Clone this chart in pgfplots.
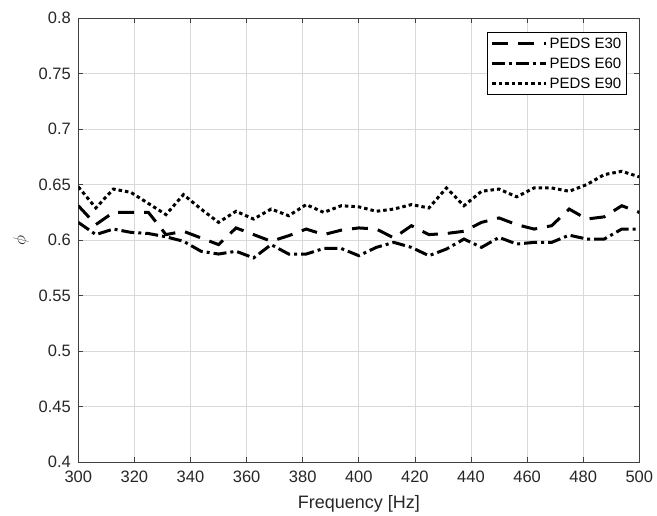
\documentclass[border=0pt]{standalone}
\usepackage{pgfplots}
\pgfplotsset{compat=1.18}
\usepackage{fontspec}
\setmainfont{Liberation Sans}
\pgfplotstableread{
f E30 E60 E90
300 0.631 0.616 0.648
306.25 0.614 0.605 0.629
312.5 0.625 0.610 0.646
318.75 0.625 0.607 0.643
325 0.625 0.606 0.633
331.25 0.605 0.603 0.623
337.5 0.608 0.599 0.641
343.75 0.602 0.590 0.628
350 0.596 0.5875 0.616
356.25 0.611 0.590 0.626
362.5 0.605 0.584 0.619
368.75 0.599 0.596 0.628
375 0.604 0.5875 0.622
381.25 0.610 0.5875 0.632
387.5 0.605 0.5925 0.625
393.75 0.609 0.5925 0.631
400 0.611 0.586 0.630
406.25 0.610 0.5935 0.626
412.5 0.602 0.598 0.628
418.75 0.613 0.5935 0.632
425 0.605 0.586 0.629
431.25 0.606 0.592 0.647
437.5 0.608 0.601 0.631
443.75 0.616 0.5935 0.644
450 0.620 0.6025 0.646
456.25 0.614 0.5965 0.639
462.5 0.610 0.598 0.647
468.75 0.613 0.598 0.647
475 0.628 0.6045 0.644
481.25 0.619 0.601 0.650
487.5 0.621 0.601 0.659
493.75 0.631 0.610 0.662
500 0.625 0.610 0.657
}\data
\begin{document}
\begin{tikzpicture}
\begin{axis}[
  name=ax,
  scale only axis,
  width=561pt, height=444.3pt,
  xmin=300, xmax=500, ymin=0.4, ymax=0.8,
  xtick={300,320,...,500},
  ytick={0.4,0.45,...,0.8},
  yticklabel style={xshift=-4pt, /pgf/number format/fixed, /pgf/number format/precision=2},
  /pgf/number format/assume math mode=true,
  tick align=inside,
  major tick length=5pt,
  grid=major,
  major grid style={color=black!15, line width=0.8pt},
  axis line style={color=black!75, line width=1pt},
  tick style={color=black!75, line width=0.8pt},
  ticklabel style={font=\fontsize{16.5}{19}\selectfont, text=black!85},
  xticklabel style={yshift=-5pt},
  xlabel={Frequency [Hz]},
  ylabel={$\phi$},
  label style={font=\fontsize{18}{21}\selectfont, text=black!85},
  xlabel style={yshift=-6pt},
  ylabel style={yshift=3pt},
  legend style={at={(0.9775,0.968)}, anchor=north east, draw=black, line width=0.8pt,
    font=\fontsize{15}{17}\selectfont, row sep=4pt, inner sep=3pt},
  legend cell align=left,
  legend image code/.code={\draw[#1] (0pt,0pt) -- (54pt,0pt);},
]
\addplot[black, line width=3pt, dash pattern=on 16pt off 10pt] table[x=f,y=E30] {\data};
\addlegendentry{PEDS E30}
\addplot[black, line width=3pt, dash pattern=on 13pt off 4pt on 3pt off 4pt] table[x=f,y=E60] {\data};
\addlegendentry{PEDS E60}
\addplot[black, line width=3pt, dash pattern=on 3.5pt off 3pt] table[x=f,y=E90] {\data};
\addlegendentry{PEDS E90}
\end{axis}
\pgfresetboundingbox
\path[use as bounding box] ([xshift=-78.3pt,yshift=-52.7pt]ax.south west) rectangle ([xshift=17.7pt,yshift=18pt]ax.north east);
\end{tikzpicture}
\end{document}
